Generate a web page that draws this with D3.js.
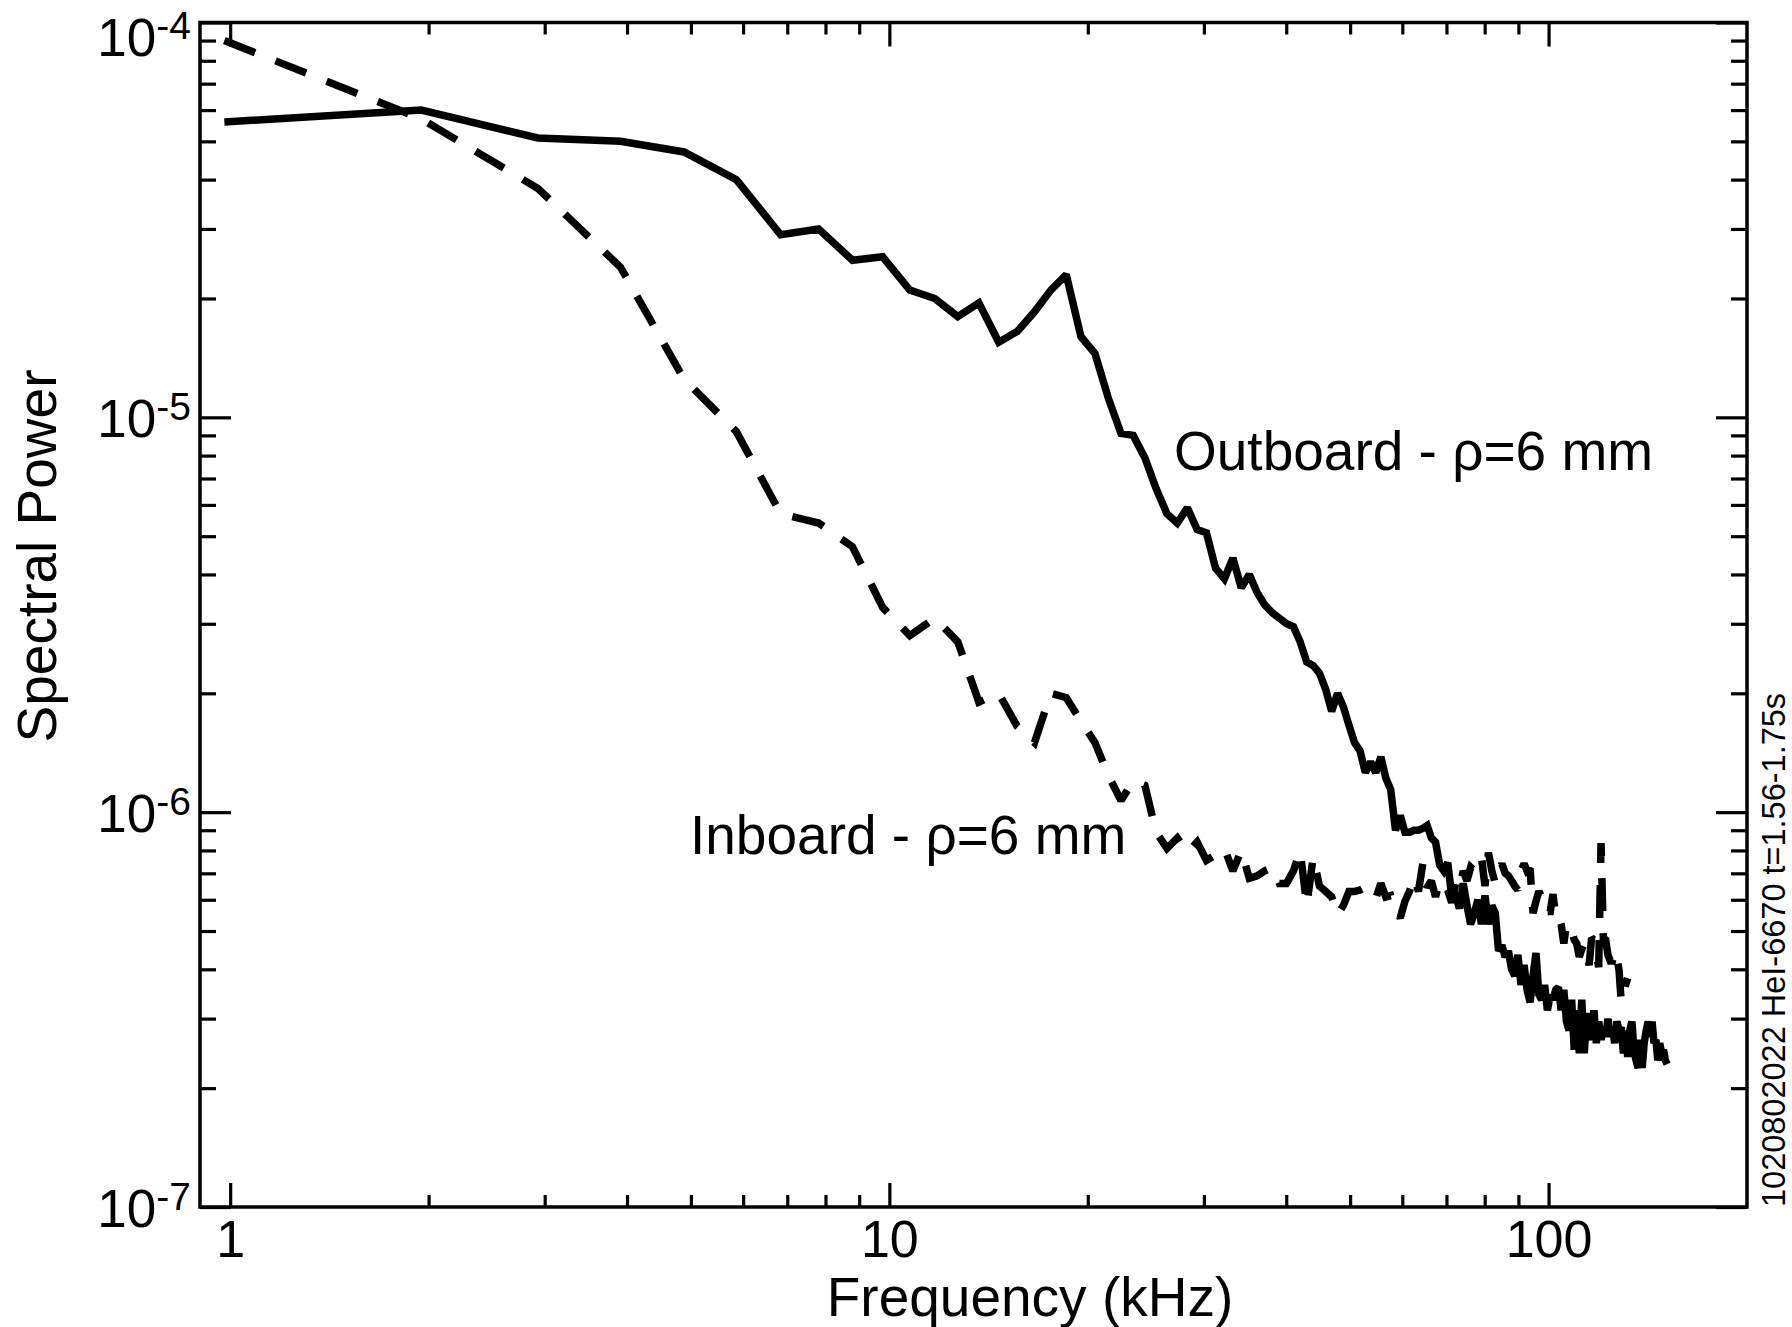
<!DOCTYPE html>
<html><head><meta charset="utf-8">
<script src="https://cdn.jsdelivr.net/npm/d3@7"></script>
<style>
html,body{margin:0;padding:0;background:#fff;}
svg{display:block;}
text{font-family:"Liberation Sans",Arial,Helvetica,sans-serif;fill:#000;}
</style></head><body>
<svg id="chart" width="1792" height="1327"></svg>
<script>
// ---------------- data ----------------
const frequencyKHz = [0.98,1.95,2.93,3.91,4.88,5.86,6.84,7.81,8.79,9.77,
 10.74,11.72,12.70,13.67,14.65,15.63,16.60,17.58,18.55,19.53,
 20.51,21.48,22.46,23.44,24.41,25.39,26.37,27.34,28.32,29.30,
 30.27,31.25,32.23,33.20,34.18,35.16,36.13,37.11,38.09,39.06,
 40.04,41.02,41.99,42.97,43.95,44.92,45.90,46.88,47.85,48.83,
 49.80,50.78,51.76,52.73,53.71,54.69,55.66,56.64,57.62,58.59,
 59.57,60.55,61.52,62.50,63.48,64.45,65.43,66.41,67.38,68.36,
 69.34,70.31,71.29,72.27,73.24,74.22,75.20,76.17,77.15,78.13,
 79.10,80.08,81.05,82.03,83.01,83.98,84.96,85.94,86.91,87.89,
 88.87,89.84,90.82,91.80,92.77,93.75,94.73,95.70,96.68,97.66,
 98.63,99.61,100.59,101.56,102.54,103.52,104.49,105.47,106.45,107.42,
 108.40,109.38,110.35,111.33,112.30,113.28,114.26,115.23,116.21,117.19,
 118.16,119.14,120.12,121.09,122.07,123.05,124.02,125.00,125.98,126.95,
 127.93,128.91,129.88,130.86,131.84,132.81,133.79,134.77,135.74,136.72,
 137.70,138.67,139.65,140.63,141.60,142.58,143.55,144.53,145.51,146.48,
 147.46,148.44,149.41,150.39,151.37];

const outboardPower = [5.6e-5,6.0e-5,5.1e-5,5.0e-5,4.7e-5,4.0e-5,2.9e-5,3.0e-5,2.5e-5,2.55e-5,
 2.1e-5,2.0e-5,1.8e-5,1.95e-5,1.55e-5,1.65e-5,1.85e-5,2.1e-5,2.3e-5,1.6e-5,
 1.45e-5,1.12e-5,9.1e-6,9.0e-6,7.9e-6,6.6e-6,5.7e-6,5.4e-6,5.9e-6,5.2e-6,
 5.1e-6,4.15e-6,3.9e-6,4.4e-6,3.7e-6,4.0e-6,3.6e-6,3.35e-6,3.2e-6,3.1e-6,
 3.0e-6,2.95e-6,2.7e-6,2.4e-6,2.35e-6,2.25e-6,2.05e-6,1.8e-6,2.0e-6,1.85e-6,
 1.66e-6,1.5e-6,1.43e-6,1.26e-6,1.34e-6,1.26e-6,1.38e-6,1.22e-6,1.14e-6,9.0e-7,
 9.8e-7,8.9e-7,8.9e-7,9.0e-7,9.0e-7,9.1e-7,9.25e-7,8.6e-7,8.4e-7,7.35e-7,
 7.1e-7,7.45e-7,6.15e-7,6.15e-7,5.7e-7,6.6e-7,5.8e-7,5.2e-7,5.55e-7,6.0e-7,
 5.2e-7,6.15e-7,5.2e-7,5.8e-7,5.55e-7,4.45e-7,4.6e-7,4.3e-7,4.45e-7,4.0e-7,
 3.85e-7,4.35e-7,3.65e-7,4.1e-7,3.55e-7,3.3e-7,3.85e-7,4.4e-7,3.45e-7,3.35e-7,
 3.65e-7,3.15e-7,3.45e-7,3.35e-7,3.55e-7,3.6e-7,3.15e-7,3.55e-7,2.95e-7,2.8e-7,
 3.35e-7,2.5e-7,3.15e-7,2.45e-7,3.35e-7,2.45e-7,3.1e-7,2.8e-7,2.65e-7,3.15e-7,
 2.6e-7,2.95e-7,2.65e-7,2.85e-7,2.7e-7,3.0e-7,2.7e-7,2.85e-7,2.6e-7,2.95e-7,
 2.8e-7,2.85e-7,2.45e-7,2.8e-7,2.4e-7,2.8e-7,2.95e-7,2.5e-7,2.35e-7,2.25e-7,
 2.65e-7,2.25e-7,2.6e-7,2.8e-7,2.95e-7,2.7e-7,2.95e-7,2.6e-7,2.65e-7,2.35e-7,
 2.6e-7,2.45e-7,2.5e-7,2.35e-7,2.3e-7];

const inboardPower = [9.0e-5,5.7e-5,3.8e-5,2.4e-5,1.25e-5,9.2e-6,5.7e-6,5.4e-6,4.7e-6,3.3e-6,
 2.8e-6,3.1e-6,2.7e-6,1.9e-6,2.0e-6,1.65e-6,1.5e-6,2.0e-6,1.95e-6,1.7e-6,
 1.5e-6,1.24e-6,1.07e-6,1.2e-6,1.17e-6,8.9e-7,8.1e-7,8.6e-7,7.9e-7,8.4e-7,
 7.55e-7,7.8e-7,8.1e-7,7.1e-7,8.0e-7,6.8e-7,6.9e-7,7.1e-7,7.25e-7,6.6e-7,
 6.6e-7,7.1e-7,8.0e-7,5.8e-7,7.7e-7,6.5e-7,6.3e-7,6.1e-7,5.5e-7,5.8e-7,
 6.3e-7,6.3e-7,6.35e-7,6.45e-7,6.15e-7,6.05e-7,6.6e-7,6.1e-7,6.15e-7,5.65e-7,
 5.4e-7,5.95e-7,6.3e-7,6.85e-7,6.3e-7,7.4e-7,6.45e-7,6.7e-7,6.1e-7,6.7e-7,
 6.6e-7,6.35e-7,5.9e-7,6.6e-7,6.35e-7,7.1e-7,6.7e-7,7.25e-7,7.1e-7,7.25e-7,
 7.7e-7,6.5e-7,7.9e-7,7.1e-7,6.6e-7,7.1e-7,7.4e-7,7.0e-7,6.9e-7,6.7e-7,
 6.5e-7,6.35e-7,7.1e-7,7.4e-7,7.1e-7,7.2e-7,5.55e-7,5.95e-7,6.3e-7,6.1e-7,
 5.55e-7,5.6e-7,5.6e-7,6.2e-7,5.4e-7,5.45e-7,5.2e-7,4.65e-7,5.2e-7,5.0e-7,
 5.0e-7,4.75e-7,4.65e-7,4.3e-7,4.5e-7,4.65e-7,4.35e-7,4.1e-7,4.8e-7,4.75e-7,
 4.35e-7,4.05e-7,8.35e-7,4.8e-7,4.75e-7,4.35e-7,4.2e-7,4.2e-7,4.45e-7,4.3e-7,
 3.97e-7,3.3e-7,3.4e-7,3.65e-7,3.8e-7];

const xMajorTicks = [1, 10, 100];
const xTickLabels = ["1", "10", "100"];
const xMinorTicks = [2,3,4,5,6,7,8,9,20,30,40,50,60,70,80,90];
const yMajorTicks = [1e-7, 1e-6, 1e-5, 1e-4];
const yTickExponents = ["-7", "-6", "-5", "-4"];
const yMinorTicks = [2e-7,3e-7,4e-7,5e-7,6e-7,7e-7,8e-7,9e-7,
                     2e-6,3e-6,4e-6,5e-6,6e-6,7e-6,8e-6,9e-6,
                     2e-5,3e-5,4e-5,5e-5,6e-5,7e-5,8e-5,9e-5];
const seriesLabels = ["Outboard - \u03c1=6 mm", "Inboard - \u03c1=6 mm"];
const xTitle = "Frequency (kHz)";
const yTitle = "Spectral Power";
const sideNote = "1020802022 HeI-6670 t=1.56-1.75s";

// ---------------- layout ----------------
const L = 200, R = 1747, T = 22.5, B = 1207;
const svg = d3.select("#chart");
const x = d3.scaleLog().domain([0.9, 200]).range([L, R]);
const y = d3.scaleLog().domain([1e-7, 1e-4]).range([B, T]);

function tickAxis(axisFn, scale, values, size, tx, ty) {
  const g = svg.append("g").attr("transform", `translate(${tx},${ty})`)
    .call(axisFn(scale).tickValues(values).tickSize(size).tickSizeOuter(0).tickFormat(() => ""));
  g.select(".domain").remove();
  g.selectAll(".tick line").attr("stroke", "#000").attr("stroke-width", 3.2);
  return g;
}
// x ticks (inward)
tickAxis(d3.axisBottom, x, xMajorTicks, -24, 0, B);
tickAxis(d3.axisBottom, x, xMinorTicks, -12, 0, B);
tickAxis(d3.axisTop, x, xMajorTicks, -24, 0, T);
tickAxis(d3.axisTop, x, xMinorTicks, -12, 0, T);
// y ticks (inward)
tickAxis(d3.axisLeft, y, yMajorTicks, -31, L, 0);
tickAxis(d3.axisLeft, y, yMinorTicks, -16, L, 0);
tickAxis(d3.axisRight, y, yMajorTicks, -31, R, 0);
tickAxis(d3.axisRight, y, yMinorTicks, -16, R, 0);

// frame
svg.append("rect").attr("x", L).attr("y", T).attr("width", R - L).attr("height", B - T)
  .attr("fill", "none").attr("stroke", "#000").attr("stroke-width", 3.5);

// x tick labels via axis
const xl = svg.append("g").attr("transform", `translate(0,${B})`)
  .call(d3.axisBottom(x).tickValues(xMajorTicks).tickSize(0).tickPadding(13)
    .tickFormat((d, i) => xTickLabels[i]));
xl.select(".domain").remove();
xl.attr("font-family", null).attr("font-size", null);
xl.selectAll("text").style("font-size", "52px").attr("fill", "#000");

// y tick labels with superscript exponents
yMajorTicks.forEach((v, i) => {
  const base = Math.max(y(v) + 20, T + 33);
  const t = svg.append("text").attr("x", 191).attr("y", base)
    .attr("text-anchor", "end").style("font-size", "53px");
  t.append("tspan").text("10");
  t.append("tspan").attr("dy", -17).style("font-size", "39px").text(yTickExponents[i]);
});

// series
const line = d3.line().x(d => x(d[0])).y(d => y(d[1]));
const outData = outboardPower.map((p, i) => [frequencyKHz[i], p]);
const inData = inboardPower.map((p, i) => [frequencyKHz[i], p]);
svg.append("path").datum(inData).attr("d", line)
  .attr("fill", "none").attr("stroke", "#000").attr("stroke-width", 7.5)
  .attr("stroke-dasharray", "33,22").attr("stroke-linejoin", "miter").attr("stroke-miterlimit", 2);
svg.append("path").datum(outData).attr("d", line)
  .attr("fill", "none").attr("stroke", "#000").attr("stroke-width", 7.5)
  .attr("stroke-linejoin", "miter").attr("stroke-miterlimit", 2);

// annotations
svg.append("text").attr("x", 1174).attr("y", 470).style("font-size", "55px").text(seriesLabels[0]);
svg.append("text").attr("x", 690).attr("y", 854).style("font-size", "55px").text(seriesLabels[1]);

// titles
svg.append("text").attr("x", 1030).attr("y", 1316).attr("text-anchor", "middle")
  .style("font-size", "55px").text(xTitle);
svg.append("text").attr("transform", "translate(56,556) rotate(-90)").attr("text-anchor", "middle")
  .style("font-size", "55px").text(yTitle);
svg.append("text").attr("transform", "translate(1785,1207) rotate(-90)").attr("text-anchor", "start")
  .style("font-size", "32.5px").text(sideNote);
</script>
</body></html>
